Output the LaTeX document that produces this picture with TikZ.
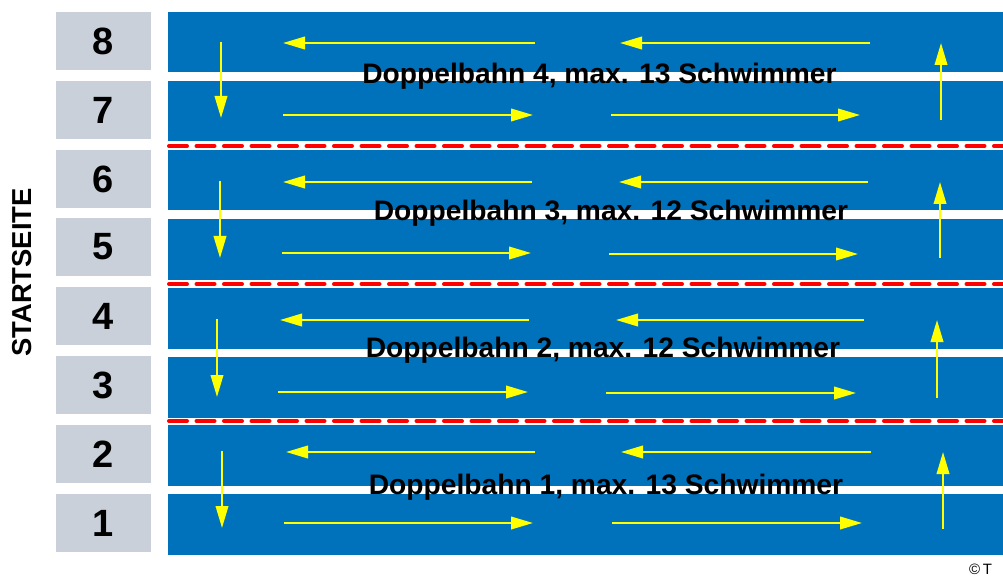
\documentclass[tikz,border=0pt]{standalone}
\usepackage{fontspec}
\setmainfont{Liberation Sans}
\usetikzlibrary{arrows.meta}
\definecolor{laneblue}{RGB}{0,114,187}
\definecolor{boxgray}{RGB}{201,208,217}
\definecolor{arrowyellow}{RGB}{255,255,0}
\definecolor{ropered}{RGB}{255,0,0}
\tikzset{
  lane/.style={fill=laneblue, draw=none},
  numbox/.style={fill=boxgray, draw=none, minimum width=95pt, minimum height=58pt, inner sep=0pt,
    font=\bfseries\fontsize{38}{38}\selectfont},
  swim/.style={draw=arrowyellow, line width=2.2pt, -{Triangle[length=22pt,width=12.5pt,fill=arrowyellow]}},
  rope/.style={draw=ropered, line width=4pt, line cap=round, dash pattern=on 18pt off 9.5pt},
  pairlabel/.style={font=\bfseries\fontsize{28.2}{28}\selectfont, anchor=base, inner sep=0pt, text=black},
}
\begin{document}
\begin{tikzpicture}[x=1pt,y=-1pt]
\useasboundingbox (0,0) rectangle (1003,577);
\clip (0,0) rectangle (1003,577);

% lanes (pair top y values)
\foreach \t in {12,150,288,425}{
  \fill[lane] (168,\t) rectangle (1010,\t+60.5);
  \fill[lane] (168,\t+69) rectangle (1010,\t+129.5);
}

% lane ropes
\foreach \y in {146,284,421}{
  \draw[rope] (169,\y) -- (1010,\y);
}

% start boxes
\foreach \n/\t in {8/12,7/81,6/150,5/218,4/287,3/356,2/425,1/494}{
  \node[numbox] (box\n) at (103.5,\t+29) {\n};
}

\node[rotate=90, font=\bfseries\fontsize{27.4}{28}\selectfont, inner sep=0pt] (start) at (22.5,272.5) {STARTSEITE};

% pair 4
\draw[swim] (221,42) -- (221,118);
\draw[swim] (535,43) -- (283,43);
\draw[swim] (870,43) -- (620,43);
\draw[swim] (283,115) -- (533,115);
\draw[swim] (611,115) -- (860,115);
\draw[swim] (941,120) -- (941,43);
\node[pairlabel] (db4) at (599.5,84) {Doppelbahn 4, max. 13 Schwimmer};

% pair 3
\draw[swim] (220,181) -- (220,258);
\draw[swim] (532,182) -- (283,182);
\draw[swim] (868,182) -- (619,182);
\draw[swim] (282,253) -- (531,253);
\draw[swim] (609,254) -- (858,254);
\draw[swim] (940,258) -- (940,182);
\node[pairlabel] (db3) at (611,221) {Doppelbahn 3, max. 12 Schwimmer};

% pair 2
\draw[swim] (217,319) -- (217,397);
\draw[swim] (529,320) -- (280,320);
\draw[swim] (864,320) -- (616,320);
\draw[swim] (278,392) -- (528,392);
\draw[swim] (606,393) -- (856,393);
\draw[swim] (937,398) -- (937,320);
\node[pairlabel] (db2) at (603,357) {Doppelbahn 2, max. 12 Schwimmer};

% pair 1
\draw[swim] (222,451) -- (222,528);
\draw[swim] (535,452) -- (286,452);
\draw[swim] (871,452) -- (621,452);
\draw[swim] (284,523) -- (533,523);
\draw[swim] (612,523) -- (862,523);
\draw[swim] (943,529) -- (943,452);
\node[pairlabel] (db1) at (606,494) {Doppelbahn 1, max. 13 Schwimmer};

% copyright
\node[anchor=base west, inner sep=0pt, font=\fontsize{15}{15}\selectfont] (copy) at (969,574) {©\,T};
\end{tikzpicture}
\end{document}
